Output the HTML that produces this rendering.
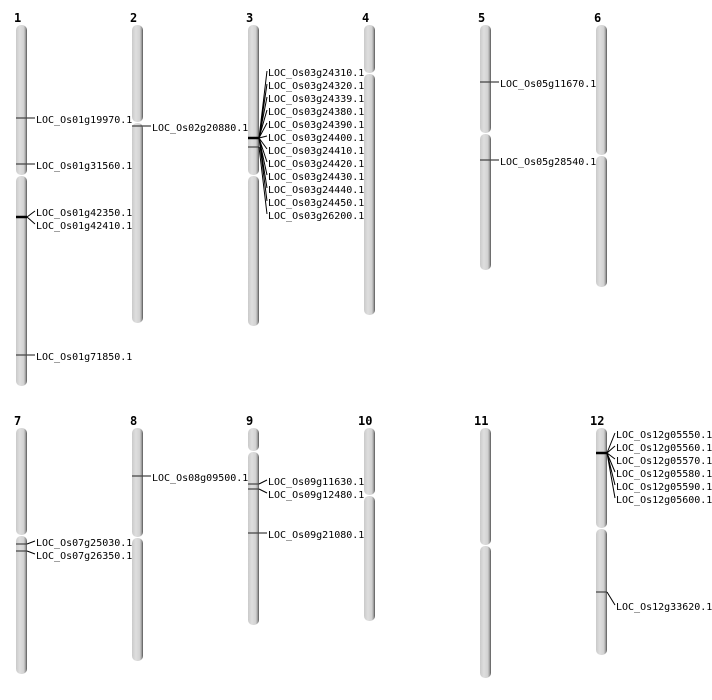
<!DOCTYPE html>
<html><head><meta charset="utf-8"><style>
html,body{margin:0;padding:0;background:#fff;}
svg{display:block;}
text{font-family:"DejaVu Sans Mono","Liberation Mono",monospace;font-size:10px;fill:#000;}
.n{font-family:"DejaVu Sans Mono","Liberation Mono",monospace;font-size:12px;font-weight:bold;}
.m{stroke:#444;stroke-width:1.2;}
.t{stroke:#000;stroke-width:2.5;}
.f{stroke:#000;stroke-width:1;fill:none;}
</style></head><body>
<svg width="712" height="700" viewBox="0 0 712 700" xmlns="http://www.w3.org/2000/svg">
<defs>
<linearGradient id="g" x1="0" x2="1" y1="0" y2="0">
<stop offset="0" stop-color="#cacaca"/><stop offset="0.35" stop-color="#dedede"/><stop offset="0.7" stop-color="#d2d2d2"/><stop offset="0.85" stop-color="#a8a8a8"/><stop offset="1" stop-color="#555"/>
</linearGradient>
</defs>
<g fill="url(#g)">
<rect x="16" y="25" width="11" height="150" rx="5"/><rect x="16" y="176" width="11" height="210" rx="5"/>
<rect x="132" y="25" width="11" height="97" rx="5"/><rect x="132" y="123" width="11" height="200" rx="5"/>
<rect x="248" y="25" width="11" height="150" rx="5"/><rect x="248" y="176" width="11" height="150" rx="5"/>
<rect x="364" y="25" width="11" height="48" rx="5"/><rect x="364" y="74" width="11" height="241" rx="5"/>
<rect x="480" y="25" width="11" height="108" rx="5"/><rect x="480" y="134" width="11" height="136" rx="5"/>
<rect x="596" y="25" width="11" height="130" rx="5"/><rect x="596" y="156" width="11" height="131" rx="5"/>
<rect x="16" y="428" width="11" height="107" rx="5"/><rect x="16" y="536" width="11" height="138" rx="5"/>
<rect x="132" y="428" width="11" height="109" rx="5"/><rect x="132" y="538" width="11" height="123" rx="5"/>
<rect x="248" y="428" width="11" height="23" rx="5"/><rect x="248" y="452" width="11" height="173" rx="5"/>
<rect x="364" y="428" width="11" height="67" rx="5"/><rect x="364" y="496" width="11" height="125" rx="5"/>
<rect x="480" y="428" width="11" height="117" rx="5"/><rect x="480" y="546" width="11" height="132" rx="5"/>
<rect x="596" y="428" width="11" height="100" rx="5"/><rect x="596" y="529" width="11" height="126" rx="5"/>
</g>
<g class="n">
<text class="n" x="14" y="22">1</text><text class="n" x="130" y="22">2</text><text class="n" x="246" y="22">3</text><text class="n" x="362" y="22">4</text><text class="n" x="478" y="22">5</text><text class="n" x="594" y="22">6</text>
<text class="n" x="14" y="425">7</text><text class="n" x="130" y="425">8</text><text class="n" x="246" y="425">9</text><text class="n" x="358" y="425">10</text><text class="n" x="474" y="425">11</text><text class="n" x="590" y="425">12</text>
</g>
<line class="m" x1="16" y1="118" x2="35" y2="118"/><text x="36" y="123">LOC_Os01g19970.1</text>
<line class="m" x1="16" y1="164" x2="35" y2="164"/><text x="36" y="169">LOC_Os01g31560.1</text>
<line class="t" x1="16" y1="217" x2="27" y2="217"/>
<path class="f" d="M27 217 L35 211 M27 217 L35 224"/>
<text x="36" y="216">LOC_Os01g42350.1</text><text x="36" y="229">LOC_Os01g42410.1</text>
<line class="m" x1="16" y1="355" x2="35" y2="355"/><text x="36" y="360">LOC_Os01g71850.1</text>
<line class="m" x1="132" y1="126" x2="151" y2="126"/><text x="152" y="131">LOC_Os02g20880.1</text>
<line class="t" x1="248" y1="138" x2="259" y2="138"/>
<line class="m" x1="248" y1="147" x2="259" y2="147"/>
<path class="f" d="M259 138 L267 71 M259 138 L267 84 M259 138 L267 97 M259 138 L267 110 M259 138 L267 123 M259 138 L267 136 M259 138 L267 149 M259 138 L267 162 M259 138 L267 175 M259 138 L267 188 M259 138 L267 201 M259 147 L267 214"/>
<text x="268" y="76">LOC_Os03g24310.1</text>
<text x="268" y="89">LOC_Os03g24320.1</text>
<text x="268" y="102">LOC_Os03g24339.1</text>
<text x="268" y="115">LOC_Os03g24380.1</text>
<text x="268" y="128">LOC_Os03g24390.1</text>
<text x="268" y="141">LOC_Os03g24400.1</text>
<text x="268" y="154">LOC_Os03g24410.1</text>
<text x="268" y="167">LOC_Os03g24420.1</text>
<text x="268" y="180">LOC_Os03g24430.1</text>
<text x="268" y="193">LOC_Os03g24440.1</text>
<text x="268" y="206">LOC_Os03g24450.1</text>
<text x="268" y="219">LOC_Os03g26200.1</text>
<line class="m" x1="480" y1="82" x2="499" y2="82"/><text x="500" y="87">LOC_Os05g11670.1</text>
<line class="m" x1="480" y1="160" x2="499" y2="160"/><text x="500" y="165">LOC_Os05g28540.1</text>
<line class="m" x1="16" y1="544" x2="27" y2="544"/><line class="m" x1="16" y1="551" x2="27" y2="551"/>
<path class="f" d="M27 544 L35 541 M27 551 L35 554"/>
<text x="36" y="546">LOC_Os07g25030.1</text><text x="36" y="559">LOC_Os07g26350.1</text>
<line class="m" x1="132" y1="476" x2="151" y2="476"/><text x="152" y="481">LOC_Os08g09500.1</text>
<line class="m" x1="248" y1="484" x2="259" y2="484"/><line class="m" x1="248" y1="489" x2="259" y2="489"/>
<path class="f" d="M259 484 L267 480 M259 489 L267 493"/>
<text x="268" y="485">LOC_Os09g11630.1</text><text x="268" y="498">LOC_Os09g12480.1</text>
<line class="m" x1="248" y1="533" x2="267" y2="533"/><text x="268" y="538">LOC_Os09g21080.1</text>
<line class="t" x1="596" y1="453" x2="607" y2="453"/>
<path class="f" d="M607 453 L615 433 M607 453 L615 446 M607 453 L615 459 M607 453 L615 472 M607 453 L615 485 M607 453 L615 498"/>
<text x="616" y="438">LOC_Os12g05550.1</text>
<text x="616" y="451">LOC_Os12g05560.1</text>
<text x="616" y="464">LOC_Os12g05570.1</text>
<text x="616" y="477">LOC_Os12g05580.1</text>
<text x="616" y="490">LOC_Os12g05590.1</text>
<text x="616" y="503">LOC_Os12g05600.1</text>
<line class="m" x1="596" y1="592" x2="607" y2="592"/><path class="f" d="M607 592 L615 605"/>
<text x="616" y="610">LOC_Os12g33620.1</text>
</svg>
</body></html>
